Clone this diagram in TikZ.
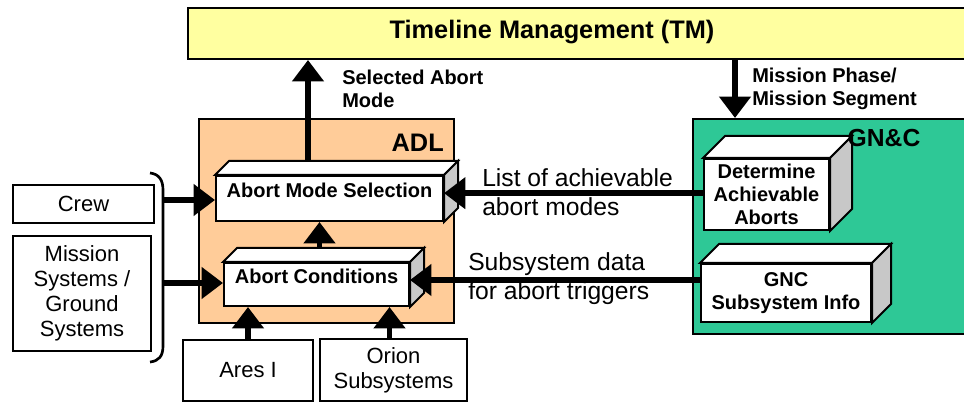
\documentclass[tikz,border=0pt]{standalone}
\usepackage{fontspec}
\setmainfont{Liberation Sans}
\usetikzlibrary{arrows.meta}
\definecolor{tmyellow}{HTML}{FFFFA0}
\definecolor{adlpeach}{HTML}{FFCC99}
\definecolor{gncgreen}{HTML}{2EC896}
\definecolor{sidegray}{HTML}{C8C8C8}
\newcommand\cubefaces[2]{%
  \draw[line width=1.5pt, fill=white, line join=miter] (#1.north west) -- ++(#2,-#2) -- ([shift={(#2,-#2)}]#1.north east) -- (#1.north east) -- cycle;
  \draw[line width=1.5pt, fill=sidegray, line join=miter] (#1.north east) -- ++(#2,-#2) -- ([shift={(#2,-#2)}]#1.south east) -- (#1.south east) -- cycle;}
\begin{document}
\begin{tikzpicture}[x=0.75pt,y=-0.75pt,
  panel/.style={draw=black, line width=1.5pt, inner sep=0pt, anchor=north west},
  front/.style={draw=black, fill=white, line width=1.5pt, inner sep=0pt, anchor=north west, align=center, font=\fontsize{15}{17.25}\selectfont\bfseries},
  plainbox/.style={draw=black, fill=white, line width=1.5pt, inner sep=0pt, anchor=north west, align=center, font=\fontsize{16.5}{18.75}\selectfont},
  flow/.style={line width=4pt, -{Triangle[length=16pt,width=23pt]}},
  boldlabel/.style={inner sep=0pt, anchor=west, align=left, font=\fontsize{15}{17.25}\selectfont\bfseries},
  flowlabel/.style={inner sep=0pt, anchor=west, align=left, font=\fontsize{18.5}{21.75}\selectfont},
  title/.style={inner sep=0pt, font=\fontsize{19}{22}\selectfont\bfseries}
]
\useasboundingbox (0,0) rectangle (964,402);
\clip (0,0) rectangle (964,402);

% panels
\node[panel, fill=tmyellow, minimum width=591pt, minimum height=38.25pt] (tm) at (187,7) {};
\node[title] (tmtitle) at (552,32) {Timeline Management (TM)};
\node[panel, fill=adlpeach, minimum width=191.25pt, minimum height=153pt] (adl) at (198,118) {};
\node[title, anchor=east] (adltitle) at (444,143) {ADL};
\node[panel, fill=gncgreen, minimum width=212.25pt, minimum height=161.25pt] (gnc) at (692,118) {};

% ADL boxes
\node[front, minimum width=170.25pt, minimum height=33.75pt, text depth=12pt] (ams) at (215,175) {Abort Mode Selection};
\cubefaces{ams}{14}
\node[front, minimum width=138.75pt, minimum height=32.25pt, text depth=12pt] (ac) at (223,262) {Abort Conditions};
\cubefaces{ac}{14}

% GN&C boxes
\node[front, minimum width=93.75pt, minimum height=53.25pt] (dab) at (703,158) {Determine\\Achievable\\Aborts};
\cubefaces{dab}{22}
\node[front, minimum width=127.5pt, minimum height=43.5pt] (gsi) at (700,263) {GNC\\Subsystem Info};
\cubefaces{gsi}{19}
\node[title, font=\fontsize{18.5}{22}\selectfont\bfseries] (gnctitle) at (884,138) {GN\&C};

% external boxes
\node[plainbox, minimum width=105.75pt, minimum height=28.5pt] (crew) at (12,184) {Crew};
\node[plainbox, minimum width=103.5pt, minimum height=86.25pt] (mss) at (12,235) {Mission\\Systems /\\Ground\\Systems};
\node[plainbox, minimum width=97.5pt, minimum height=45.75pt] (ares) at (182,339) {Ares I};
\node[plainbox, minimum width=110.25pt, minimum height=46.5pt] (orion) at (319,338) {Orion\\Subsystems};

% brace
\draw[line width=2pt] (150,173) .. controls (159,174) and (163,180) .. (163,190) -- (163,346) .. controls (163,356) and (159,361) .. (150,362);
\coordinate (bracetop) at (162,200);
\coordinate (bracebot) at (162,283);

% connectors
\draw[flow] (bracetop) -- (bracetop -| ams.west);
\draw[flow] (bracebot) -- (bracebot -| ac.west);
\coordinate (selx) at (308,161);
\draw[flow] (selx) -- (selx |- tm.south);
\coordinate (mpx) at (735,0);
\draw[flow] (tm.south -| mpx) -- (gnc.north -| mpx);
\draw[flow] ([shift={(3,-14)}]ac.north) -- ([xshift=2.25pt]ac.north |- ams.south);
\draw[flow] (ares.north) -- (ares.north |- ac.south);
\draw[flow] ([xshift=-3pt]orion.north) -- ([xshift=-3pt]orion.north |- ac.south);
\draw[flow] ([yshift=1pt]dab.west) -- ([yshift=1pt]dab.west -| ams.east);
\coordinate (suby) at (0,280);
\draw[flow] (gsi.west |- suby) -- (ac.east |- suby);

% labels
\node[boldlabel] (sellabel) at (342,88.5) {Selected Abort\\Mode};
\node[boldlabel] (mplabel) at (752,88.5) {Mission Phase/\\Mission Segment};
\node[flowlabel] (listlabel) at (482,192.5) {List of achievable\\abort modes};
\node[flowlabel] (sublabel) at (468,278.5) {Subsystem data\\for abort triggers};
\end{tikzpicture}
\end{document}
